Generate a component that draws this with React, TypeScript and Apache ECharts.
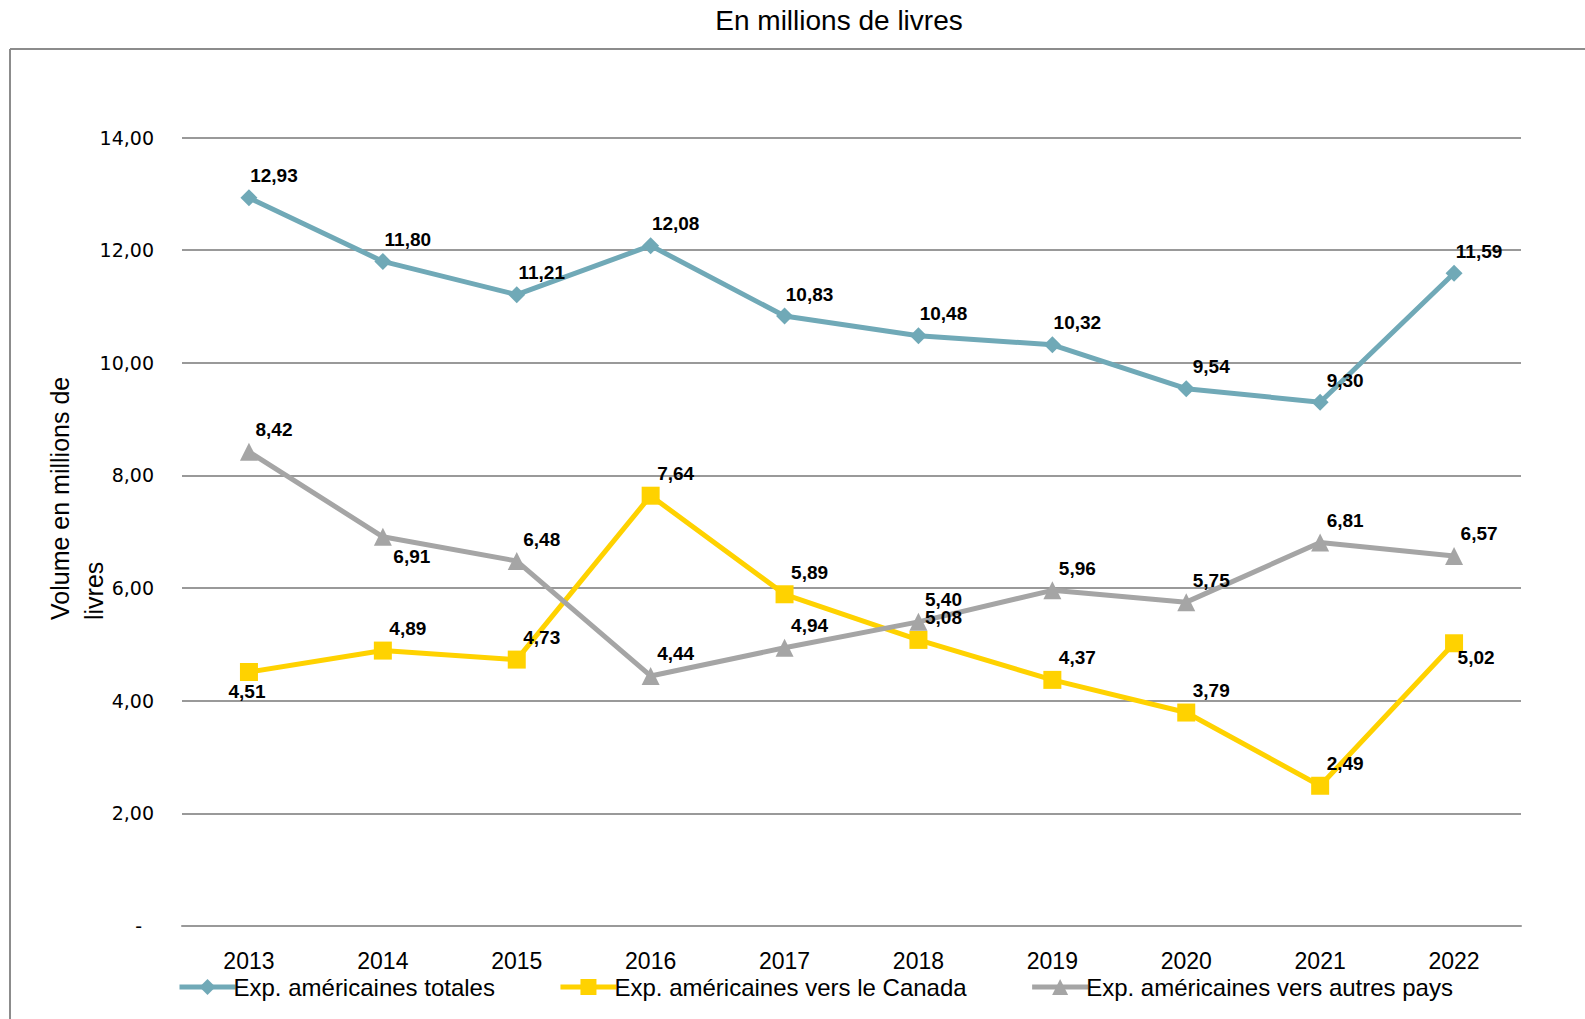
import React, { useEffect, useRef } from "react";
import * as echarts from "echarts";

const years = ["2013", "2014", "2015", "2016", "2017", "2018", "2019", "2020", "2021", "2022"];
const totalExports = [12.93, 11.8, 11.21, 12.08, 10.83, 10.48, 10.32, 9.54, 9.3, 11.59];
const canadaExports = [4.51, 4.89, 4.73, 7.64, 5.89, 5.08, 4.37, 3.79, 2.49, 5.02];
const otherExports = [8.42, 6.91, 6.48, 4.44, 4.94, 5.4, 5.96, 5.75, 6.81, 6.57];
const yTicks = [0, 2, 4, 6, 8, 10, 12, 14];

const seriesNames = [
  "Exp. américaines totales",
  "Exp. américaines vers le Canada",
  "Exp. américaines vers autres pays",
];

const fmt = (v: number) => v.toFixed(2).replace(".", ",");

const labelStyle = {
  show: true,
  position: "inside" as const,
  offset: [25, -22],
  fontFamily: "Liberation Sans",
  fontWeight: "bold" as const,
  fontSize: 19,
  color: "#000",
  formatter: (p: any) => fmt(p.value),
};

function withLabelOverrides(values: number[], overrides: Record<number, number[]>) {
  return values.map((v, i) =>
    overrides[i] ? { value: v, label: { offset: overrides[i] } } : v
  );
}

export default function App() {
  const ref = useRef<HTMLDivElement>(null);
  useEffect(() => {
    if (!ref.current) return;
    const chart = echarts.init(ref.current, undefined, { renderer: "svg" });
    chart.setOption({
      animation: false,
      backgroundColor: "#fff",
      graphic: [
        {
          type: "line",
          shape: { x1: 10, y1: 49, x2: 1585, y2: 49 },
          style: { stroke: "#8c8c8c", lineWidth: 2 },
        },
        {
          type: "line",
          shape: { x1: 10, y1: 49, x2: 10, y2: 1019 },
          style: { stroke: "#8c8c8c", lineWidth: 2 },
        },
        {
          type: "text",
          x: 839,
          y: 20,
          style: {
            text: "En millions de livres",
            fontFamily: "Liberation Sans",
            fontSize: 28,
            fill: "#000",
            align: "center",
            verticalAlign: "middle",
          },
        },
        {
          type: "text",
          x: 43,
          y: 620,
          rotation: Math.PI / 2,
          style: {
            text: "Volume en millions de\nlivres",
            fontFamily: "Liberation Sans",
            fontSize: 25,
            lineHeight: 34,
            fill: "#000",
            align: "left",
            verticalAlign: "top",
          },
        },
      ],
      grid: { left: 182, right: 64, top: 137.5, bottom: 93, containLabel: false },
      legend: {
        left: 172,
        top: 970,
        itemWidth: 56,
        itemHeight: 20,
        itemGap: 63,
        lineStyle: { width: 5 },
        textStyle: { fontFamily: "Liberation Sans", fontSize: 24, color: "#000", padding: [0, 0, 0, -7] },
        data: seriesNames,
      },
      xAxis: {
        type: "category",
        data: years,
        boundaryGap: true,
        axisLine: { show: true, lineStyle: { color: "#999", width: 2 } },
        axisTick: { show: false },
        axisLabel: { fontFamily: "Liberation Sans", fontSize: 23, color: "#000", margin: 23 },
      },
      yAxis: {
        type: "value",
        min: yTicks[0],
        max: yTicks[yTicks.length - 1],
        interval: 2,
        axisLine: { show: false },
        axisTick: { show: false },
        splitLine: { lineStyle: { color: "#999", width: 2 } },
        axisLabel: {
          fontFamily: "DejaVu Sans",
          fontSize: 19,
          color: "#000",
          margin: 28,
          formatter: (v: number) => (v === 0 ? "{z|-}" : fmt(v)),
          rich: { z: { fontFamily: "DejaVu Sans", fontSize: 19, color: "#000", padding: [0, 12, 0, 0] } },
        },
      },
      series: [
        {
          name: seriesNames[0],
          type: "line",
          data: totalExports,
          color: "#70a9b7",
          symbol: "diamond",
          symbolSize: 17,
          lineStyle: { width: 5, color: "#70a9b7" },
          itemStyle: { color: "#70a9b7" },
          label: labelStyle,
          z: 3,
        },
        {
          name: seriesNames[1],
          type: "line",
          data: withLabelOverrides(canadaExports, { 0: [-2, 20], 9: [22, 14] }),
          color: "#ffd200",
          symbol: "rect",
          symbolSize: 18,
          lineStyle: { width: 5, color: "#ffd200" },
          itemStyle: { color: "#ffd200" },
          label: labelStyle,
          z: 2,
        },
        {
          name: seriesNames[2],
          type: "line",
          data: withLabelOverrides(otherExports, { 1: [29, 20] }),
          color: "#a5a5a5",
          symbol: "triangle",
          symbolSize: 18,
          lineStyle: { width: 5, color: "#a5a5a5" },
          itemStyle: { color: "#a5a5a5" },
          label: labelStyle,
          z: 2,
        },
      ],
    });
    return () => chart.dispose();
  }, []);
  return <div ref={ref} style={{ width: 1585, height: 1019, position: "absolute", left: 0, top: 0 }} />;
}
